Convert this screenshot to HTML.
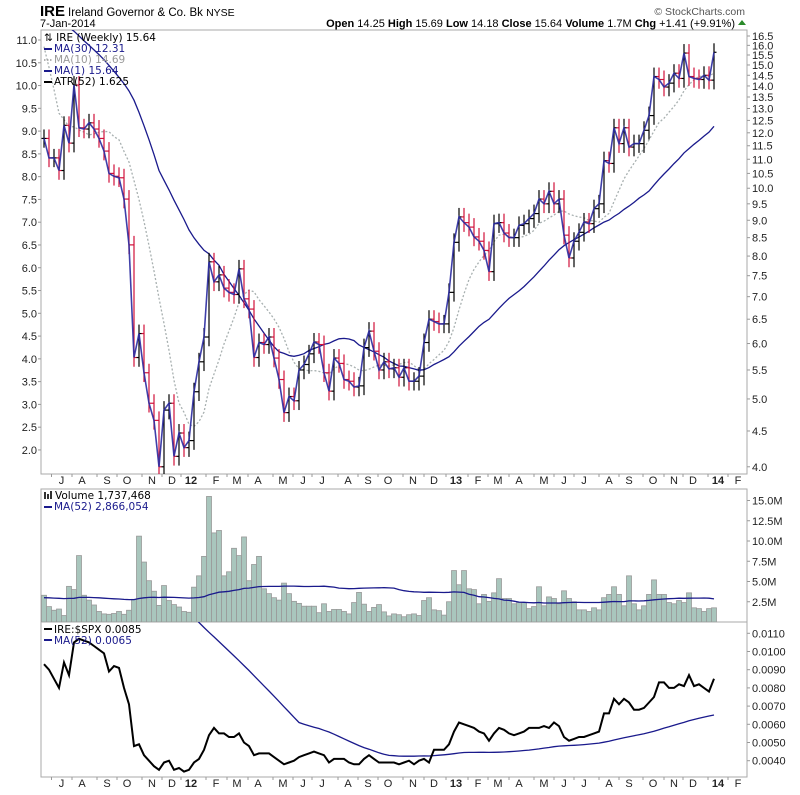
<!DOCTYPE html>
<html><head><meta charset="utf-8"><style>
body{margin:0;background:#fff;}
svg{display:block;font-family:"Liberation Sans",Arial,sans-serif;}
.ax{font-size:11px;fill:#222;}
.lg{font-family:"DejaVu Sans",sans-serif;font-size:10.5px;}
</style></head><body>
<svg id="chart" width="800" height="795" viewBox="0 0 800 795">
<defs>
<clipPath id="cpMain"><rect x="41" y="30" width="706" height="444"/></clipPath>
<clipPath id="cpVol"><rect x="41" y="489" width="706" height="133"/></clipPath>
<clipPath id="cpRat"><rect x="41" y="622" width="706" height="155"/></clipPath>
</defs>
<g>
<text x="40" y="16" font-size="15" font-weight="bold">IRE</text>
<text x="68" y="16" font-size="11.5">Ireland Governor &amp; Co. Bk <tspan font-size="10.5">NYSE</tspan></text>
<text x="40" y="27" font-size="11">7-Jan-2014</text>
<text x="745" y="15" font-size="10.5" fill="#555" text-anchor="end">© StockCharts.com</text>
<text x="735" y="27" font-size="11" text-anchor="end"><tspan font-weight="bold">Open</tspan> 14.25 <tspan font-weight="bold">High</tspan> 15.69 <tspan font-weight="bold">Low</tspan> 14.18 <tspan font-weight="bold">Close</tspan> 15.64 <tspan font-weight="bold">Volume</tspan> 1.7M <tspan font-weight="bold">Chg</tspan> +1.41 (+9.91%)</text>
<polygon points="738,25 746,25 742,20" fill="#2a8a2a"/>
</g>
<rect x="41" y="30" width="706" height="444" fill="none" stroke="#aaa"/>
<rect x="41" y="489" width="706" height="133" fill="none" stroke="#aaa"/>
<rect x="41" y="622" width="706" height="155" fill="none" stroke="#aaa"/>
<g id="axes"></g>
<g id="volG" clip-path="url(#cpVol)"></g>
<g id="ratG" clip-path="url(#cpRat)"></g>
<g id="mainG" clip-path="url(#cpMain)"></g>
<g class="lg">
<text x="44" y="41">⇅ IRE (Weekly) 15.64</text>
<line x1="44" y1="49" x2="52" y2="49" stroke="#1a1a8c" stroke-width="2"/><text x="54" y="52" fill="#1a1a8c">MA(30) 12.31</text>
<line x1="44" y1="60" x2="52" y2="60" stroke="#999" stroke-width="1.5" stroke-dasharray="1.5,1.5"/><text x="54" y="63" fill="#999">MA(10) 14.69</text>
<line x1="44" y1="71" x2="52" y2="71" stroke="#1a1a8c" stroke-width="2"/><text x="54" y="74" fill="#1a1a8c">MA(1) 15.64</text>
<line x1="44" y1="82" x2="52" y2="82" stroke="#000" stroke-width="2"/><text x="54" y="85">ATR(52) 1.625</text>
</g>
<g class="lg">
<rect x="44" y="492" width="2" height="7" fill="#333"/><rect x="47" y="494" width="2" height="5" fill="#333"/><rect x="50" y="491" width="2" height="8" fill="#333"/>
<text x="55" y="499">Volume 1,737,468</text>
<line x1="44" y1="507" x2="52" y2="507" stroke="#1a1a8c" stroke-width="2"/><text x="54" y="510" fill="#1a1a8c">MA(52) 2,866,054</text>
</g>
<g class="lg">
<line x1="44" y1="629" x2="52" y2="629" stroke="#000" stroke-width="2"/><text x="54" y="633">IRE:$SPX 0.0085</text>
<line x1="44" y1="640" x2="52" y2="640" stroke="#1a1a8c" stroke-width="2"/><text x="54" y="644" fill="#1a1a8c">MA(52) 0.0065</text>
</g>
</svg>
<script>
const closes=[11.78,11.05,11.05,10.6,12.3,11.6,14.04,12.2,12.15,12.4,12.15,11.78,11.3,10.5,10.4,10.35,9.65,8.3,5.73,6.2,5.45,4.93,4.66,4.0,4.82,4.93,4.14,4.47,4.26,4.36,5.12,5.65,6.13,7.85,7.35,7.52,7.2,7.1,7.05,7.67,6.95,6.72,5.73,6.02,5.98,6.13,5.72,5.33,4.78,5.04,4.97,5.5,5.6,5.8,6.03,5.98,5.45,5.13,5.72,5.62,5.33,5.3,5.2,5.22,5.92,6.25,5.85,5.5,5.65,5.52,5.54,5.37,5.54,5.3,5.3,5.39,6.02,6.5,6.45,6.4,6.4,7.1,8.37,9.1,8.93,8.8,8.52,8.4,8.15,7.6,8.9,8.93,8.63,8.5,8.5,8.85,8.9,9.05,9.2,9.65,9.5,9.9,9.5,9.65,8.57,7.95,8.4,8.65,8.95,8.9,9.35,9.5,10.95,10.85,12.2,11.58,12.2,11.45,11.58,11.58,12.1,12.7,14.44,14.3,13.95,14.13,14.6,14.35,15.6,14.44,14.35,14.3,14.5,14.27,15.64];
const priorCloses=[21,21,21,20.5,20.5,20,20,20,19.5,19.5,19,19,19,19,19,18.5,18.5,18,22,22,21.5,21.5,21,15,14.5,14,13.5,13,13.5];
const volumes=[3.3,1.9,1.45,1.6,0.8,4.4,4.0,8.2,3.3,2.7,2.1,1.3,1.0,0.95,1.05,1.3,0.95,1.45,2.8,10.6,7.4,5.1,3.8,2.05,4.5,2.65,2.15,1.85,1.3,1.2,4.3,5.7,8.1,15.5,11.0,11.3,5.7,6.2,9.1,8.2,10.5,5.1,7.1,8.1,4.1,3.5,3.0,2.7,4.8,3.5,2.55,2.3,1.95,1.95,1.95,1.15,2.25,1.3,1.55,1.55,1.3,1.0,2.4,3.65,2.2,1.3,1.8,2.15,
1.25,0.75,1.0,0.9,0.65,0.9,1.0,0.8,2.65,3.0,1.5,1.4,0.85,2.5,6.35,4.6,6.35,4.1,4.0,2.25,3.4,2.55,3.6,5.35,2.9,2.9,2.25,2.4,2.4,1.65,1.9,4.35,2.0,3.1,2.9,2.25,3.85,2.9,2.5,1.5,1.5,1.3,1.75,1.5,3.0,3.4,4.35,3.4,2.0,5.7,2.25,1.5,2.0,3.4,5.2,3.4,3.4,2.4,2.25,2.65,2.4,3.6,1.75,1.65,1.3,1.65,1.75];
const priorVolAvg=3.0;
const ratios=[.0093,.0090,.0085,.0080,.0094,.0087,.0105,.0107,.0106,.0105,.0103,.0101,.0099,.0089,.0092,.0091,.0080,.0071,.0048,.0049,.0043,.0040,.0037,.0035,.0039,.0040,.0035,.0036,.0034,.0035,.0039,.0041,.0046,.0054,.0058,.0055,.0055,.0053,.0053,.0055,.0050,.0048,.0043,.0044,.0044,.0044,.0042,.0040,.0038,.0039,.0040,.0042,.0043,.0044,.0045,.0044,.0043,.0039,.0041,.0041,.0041,.0039,.0038,.0038,.0041,.0043,.0041,.0039,.0039,.0039,.0039,.0038,.0039,.0040,.0038,.0040,.0041,.0039,.0046,.0046,.0046,.0049,.0056,.0061,.0060,.0059,.0058,.0056,.0055,.0051,.0055,.0058,.0057,.0055,.0054,.0055,.0056,.0058,.0058,.0058,.0059,.0058,.0061,.0059,.0053,.0051,.0052,.0053,.0053,.0054,.0055,.0056,.0066,.0066,.0074,.0071,.0074,.0072,.0068,.0068,.0069,.0072,.0075,.0083,.0083,.0080,.0080,.0082,.0081,.0087,.0081,.0082,.0080,.0078,.0085];
const priorRatioAvg=0.019;
const leftTicks=[11.0,10.5,10.0,9.5,9.0,8.5,8.0,7.5,7.0,6.5,6.0,5.5,5.0,4.5,4.0,3.5,3.0,2.5,2.0];
const rightTicks=[16.5,16.0,15.5,15.0,14.5,14.0,13.5,13.0,12.5,12.0,11.5,11.0,10.5,10.0,9.5,9.0,8.5,8.0,7.5,7.0,6.5,6.0,5.5,5.0,4.5,4.0];
const volTicks=[15,12.5,10,7.5,5,2.5];
const ratioTicks=[.011,.010,.009,.008,.007,.006,.005,.004];
const monthLabels=["J","A","S","O","N","D","12","F","M","A","M","J","J","A","S","O","N","D","13","F","M","A","M","J","J","A","S","O","N","D","14","F"];
const monthWeeks=[3.5,7.6,12.6,16.6,21.6,25.6,29.4,34.4,38.6,42.8,47.8,51.8,55.6,60.8,64.8,68.8,73.8,78,82.4,86.8,90.8,95,100,104,108,113,117,121.8,126,129.8,134.8,138.8];
const NS="http://www.w3.org/2000/svg";
const X=i=>44+5*i;
const yP=p=>36+304*Math.log(16.5/p);
const yL=v=>40+(11-v)*45.55;
const yV=v=>622-v*8.1;
const yR=r=>633.3+(0.011-r)*18200;
function mk(t,a,parent){const e=document.createElementNS(NS,t);for(const k in a)e.setAttribute(k,a[k]);parent.appendChild(e);return e;}
const axes=document.getElementById('axes'),mainG=document.getElementById('mainG'),volG=document.getElementById('volG'),ratG=document.getElementById('ratG');
leftTicks.forEach(v=>{const y=yL(v);
 const t=mk('text',{x:37,y:y+4,'text-anchor':'end','class':'ax'},axes);t.textContent=v.toFixed(1);
 
 
 mk('line',{x1:38,x2:41,y1:y,y2:y,stroke:'#999'},axes);});
rightTicks.forEach(v=>{const y=yP(v);
 const t=mk('text',{x:752,y:y+4,'class':'ax'},axes);t.textContent=v.toFixed(1);
 
 
 mk('line',{x1:747,x2:750,y1:y,y2:y,stroke:'#999'},axes);});
volTicks.forEach(v=>{const y=yV(v);
 const t=mk('text',{x:752,y:y+4,'class':'ax'},axes);t.textContent=v.toFixed(1)+'M';
 
 
 mk('line',{x1:747,x2:750,y1:y,y2:y,stroke:'#999'},axes);});
ratioTicks.forEach(v=>{const y=yR(v);
 const t=mk('text',{x:752,y:y+4,'class':'ax'},axes);t.textContent=v.toFixed(4);
 
 
 mk('line',{x1:747,x2:750,y1:y,y2:y,stroke:'#999'},axes);});
monthLabels.forEach((m,k)=>{const x=X(monthWeeks[k]);const bold=/\d/.test(m);
 [484,787].forEach(yy=>{const t=mk('text',{x:x,y:yy,'text-anchor':'middle','class':'ax','font-size':bold?'13':'10.5','font-weight':bold?'bold':'normal'},axes);t.textContent=m;
 
 });
 mk('line',{x1:x-10,x2:x-10,y1:474,y2:477,stroke:'#999'},axes);
 mk('line',{x1:x-10,x2:x-10,y1:777,y2:780,stroke:'#999'},axes);});
const all=priorCloses.concat(closes),P=priorCloses.length;
function ma(n){return closes.map((c,i)=>{let s=0;for(let j=P+i-n+1;j<=P+i;j++)s+=all[j];return s/n;});}
const ma30=ma(30),ma10=ma(10);
function pathOf(arr,fy){return arr.map((v,i)=>(i?'L':'M')+X(i).toFixed(1)+','+fy(v).toFixed(1)).join('');}
const m10=mk('path',{d:pathOf(ma10,yP),fill:'none',stroke:'#a8b0b0','stroke-width':1.3,'stroke-dasharray':'2,2'},mainG);


const m30=mk('path',{d:pathOf(ma30,yP),fill:'none',stroke:'#1a1a8c','stroke-width':1.3},mainG);


closes.forEach((c,i)=>{const o=i?closes[i-1]:c;const hi=Math.max(o,c)*1.03,lo=Math.min(o,c)*0.97;
 const col=(i&&c<closes[i-1])?'#d0103a':'#000';const x=X(i);
 const g=mk('g',{stroke:col,'stroke-width':1.2},mainG);
 
 
 mk('line',{x1:x,x2:x,y1:yP(hi),y2:yP(lo)},g);
 mk('line',{x1:x-2.5,x2:x,y1:yP(o),y2:yP(o)},g);
 mk('line',{x1:x,x2:x+2.5,y1:yP(c),y2:yP(c)},g);});
const m1=mk('path',{d:pathOf(closes,yP),fill:'none',stroke:'#2a2aa0','stroke-width':1.6,'stroke-opacity':0.9},mainG);


volumes.forEach((v,i)=>{const x=X(i);
 const r=mk('rect',{x:x-2.5,y:yV(v),width:5,height:622-yV(v),fill:'#a9c6bd',stroke:'#999','stroke-width':0.8},volG);
 
 });
const vma=volumes.map((v,i)=>{let s=0,n=0;for(let j=Math.max(0,i-51);j<=i;j++){s+=volumes[j];n++;}return (s+(52-n)*priorVolAvg)/52;});
const vm=mk('path',{d:pathOf(vma,yV),fill:'none',stroke:'#1a1a8c','stroke-width':1.3},volG);


const rma=ratios.map((v,i)=>{let s=0,n=0;for(let j=Math.max(0,i-51);j<=i;j++){s+=ratios[j];n++;}return (s+(52-n)*priorRatioAvg)/52;});
const rm=mk('path',{d:pathOf(rma,yR),fill:'none',stroke:'#1a1a8c','stroke-width':1.3},ratG);


const rl=mk('path',{d:pathOf(ratios,yR),fill:'none',stroke:'#000','stroke-width':2},ratG);


</script>
</body></html>
